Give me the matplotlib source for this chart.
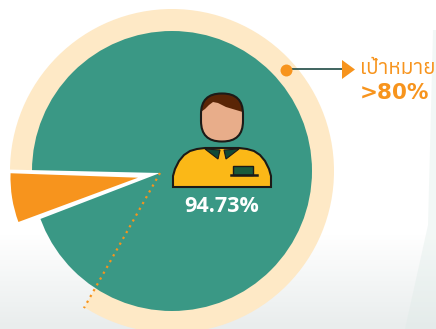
import numpy as np
import matplotlib
matplotlib.use('Agg')
import matplotlib.pyplot as plt
from matplotlib import font_manager
from matplotlib.colors import LinearSegmentedColormap
from matplotlib.ft2font import FT2Font
from matplotlib.patches import Wedge, Circle, Polygon, FancyBboxPatch, Rectangle

# shares, the printed label is kept apart
slice_share = 6.2
target_share = 82.8
value_label = '94.73%'
target_label = 'เป้าหมาย'
target_value = '>80%'

GREEN = '#3a9885'
RING = '#fee9c6'
ORANGE = '#f7941d'

thai_fonts = []
for f in font_manager.fontManager.ttflist:
    try:
        if 0x0E40 in FT2Font(f.fname).get_charmap():
            thai_fonts.append(f.name)
    except Exception:
        pass
thai_family = (sorted(set(thai_fonts)) + ['DejaVu Sans'])[0]

fig = plt.figure(figsize=(4.36, 3.29), dpi=100)
ax = fig.add_axes([0, 0, 1, 1])
ax.axis('off')

# page background, white with a pale grey foot and a slanted strip on the right
page = LinearSegmentedColormap.from_list('page', ['#ffffff', '#e9eded'])
ax.imshow(np.linspace(0, 1, 32).reshape(-1, 1), extent=(0, 436, 329, 233), aspect='auto', cmap=page, zorder=0)
ax.add_patch(Polygon([(433, 30), (436, 30), (436, 329), (405, 329), (428, 225)], closed=True, fc='#dceae6', ec='none', alpha=0.35, zorder=0))
ax.set_xlim(0, 436)
ax.set_ylim(329, 0)

cx, cy = 172, 171
apex = (160, 173)

# y axis points down, so angles run clockwise on the page
cut_top = 181.3
slice_top = 182.0
sweep = slice_share * 3.6
target_angle = cut_top + target_share * 3.6

# target ring only runs as far as the dotted line
ring = Circle((cx, cy), 162, fc=RING, ec='none', zorder=1)
ax.add_patch(ring)
ring.set_clip_path(Wedge(apex, 220, cut_top, target_angle, transform=ax.transData))

disc = Circle((cx, cy), 140, fc=GREEN, ec='none', zorder=2)
ax.add_patch(disc)

# white cut in the disc and the pulled out slice
cut = Wedge(apex, 180, cut_top - sweep, cut_top, fc='white', ec='none', zorder=3)
ax.add_patch(cut)
cut.set_clip_path(Circle((cx, cy), 141, transform=ax.transData))
ax.add_patch(Wedge((138, 177.7), 127.5, slice_top - sweep, slice_top, fc=ORANGE, ec='none', zorder=4))

# dotted target line
t = np.deg2rad(target_angle)
ax.plot([apex[0], apex[0] + 155 * np.cos(t)], [apex[1], apex[1] + 155 * np.sin(t)], color=ORANGE, lw=1.6, ls=(0, (1, 2)), zorder=5)

# person icon
edge = '#1c1a17'
left = [(173, 187), (173, 176), (175, 169), (179, 161), (184, 155), (190, 151), (197, 149), (205, 148)]
right = [(444 - x, y) for x, y in reversed(left)]
ax.add_patch(Polygon(left + right, closed=True, fc='#fbb817', ec=edge, lw=1.5, zorder=5))
ax.add_patch(Polygon([(205, 149), (220, 150), (218, 159)], closed=True, fc='#0f4a37', ec=edge, lw=0.8, zorder=6))
ax.add_patch(Polygon([(224, 150), (239, 149), (226, 159)], closed=True, fc='#0f4a37', ec=edge, lw=0.8, zorder=6))
ax.add_patch(Rectangle((233, 166), 20, 9, fc='#1a5a3c', ec=edge, lw=1, zorder=6))
ax.plot([231, 257], [175, 175], color=edge, lw=1.8, zorder=6)

head = FancyBboxPatch((201, 93.5), 42, 48, boxstyle='round,pad=0,rounding_size=20.5', fc='#e8ad8a', ec='none', zorder=6)
ax.add_patch(head)
hair = Polygon([(198, 90), (246, 90), (246, 113), (236, 110), (226, 107), (218, 103), (213, 102), (209, 105), (205, 109), (198, 114)],
               closed=True, fc='#5a2506', ec='none', zorder=7)
ax.add_patch(hair)
hair.set_clip_path(head)
ax.add_patch(FancyBboxPatch((201, 93.5), 42, 48, boxstyle='round,pad=0,rounding_size=20.5', fc='none', ec=edge, lw=1.5, zorder=8))

ax.text(221.5, 211.5, value_label, color='white', fontsize=15.5, fontweight='bold', family='Open Sans', ha='center', va='baseline', zorder=8)

# target callout
ax.plot([286, 344], [69, 69], color='#1f4a44', lw=1.2, zorder=5)
ax.plot([286], [69.5], marker='o', ms=8.6, color=ORANGE, mec='none', zorder=6)
ax.add_patch(Polygon([(342, 60), (355, 69.5), (342, 79)], closed=True, fc=ORANGE, ec='none', zorder=6))
ax.text(360, 73.5, target_label, color=ORANGE, fontsize=15, family=thai_family, ha='left', va='baseline', zorder=6)
ax.text(360, 99, target_value, color=ORANGE, fontsize=15.5, fontweight='bold', family='DejaVu Sans', ha='left', va='baseline', zorder=6)

fig.savefig('out.png', dpi=100)
